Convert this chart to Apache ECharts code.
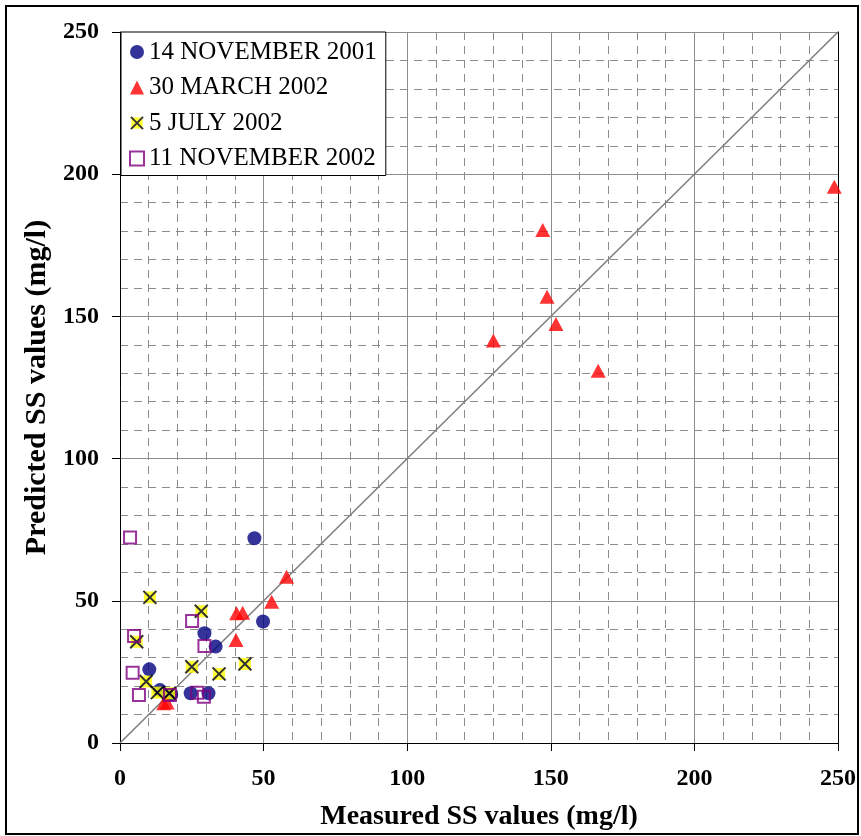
<!DOCTYPE html>
<html>
<head>
<meta charset="utf-8">
<script src="https://cdn.jsdelivr.net/npm/echarts@6/dist/echarts.min.js"></script>
<style>
  html, body { margin: 0; padding: 0; background: #fff; }
  #chart { width: 861px; height: 836px; }
</style>
</head>
<body>
<div id="chart"></div>
<script>
// measured / predicted SS values (mg/l)
const nov2001 = [
  [46.8, 72.0], [49.8, 42.7], [29.4, 38.6], [33.3, 33.9], [10.2, 25.9],
  [13.9, 18.6], [17.8, 17.0], [24.6, 17.5], [30.8, 17.5]
]
const mar2002 = [
  [248.7, 195.6], [147.2, 180.4], [148.7, 156.9], [151.8, 147.3], [130.0, 141.5],
  [166.5, 130.9], [58.0, 58.5], [52.8, 49.7], [40.6, 45.6], [42.7, 45.8],
  [40.4, 36.2], [15.2, 14.0], [16.4, 14.2]
]
const jul2002 = [
  [10.4, 51.2], [28.3, 46.3], [5.8, 35.6], [25.0, 26.8], [43.5, 27.8],
  [34.5, 24.3], [9.1, 21.6], [13.0, 17.7], [17.2, 17.5]
]
const nov2002 = [
  [3.5, 72.3], [4.9, 37.6], [25.1, 42.9], [29.4, 34.1], [4.4, 24.7],
  [6.6, 16.9], [17.4, 16.9], [26.9, 17.7], [29.2, 16.3]
]
const oneToOne = [0, 250]
const axisTicks = [0, 50, 100, 150, 200, 250]

const serif = '"Liberation Serif", "Times New Roman", serif'

// yellow box with black cross, like the Excel marker
const xSvg = "<svg xmlns='http://www.w3.org/2000/svg' width='15' height='15'>" +
  "<rect x='1.5' y='1.5' width='12' height='12' fill='#ffff00'/>" +
  "<path d='M1 1L14 14M14 1L1 14' stroke='#000' stroke-width='2'/></svg>"
const xSymbol = 'image://data:image/svg+xml;charset=utf-8,' + encodeURIComponent(xSvg)

const chart = echarts.init(document.getElementById('chart'))

const valueAxis = (name, gap, nameSize, labelMargin) => ({
  type: 'value',
  min: axisTicks[0],
  max: axisTicks[axisTicks.length - 1],
  interval: axisTicks[1] - axisTicks[0],
  name: name,
  nameLocation: 'middle',
  nameGap: gap,
  nameTextStyle: { fontFamily: serif, fontWeight: 'bold', fontSize: nameSize, color: '#000' },
  axisLine: { show: true, lineStyle: { color: '#000', width: 1 } },
  axisTick: { show: true, length: 8, lineStyle: { color: '#000' } },
  axisLabel: { fontFamily: serif, fontWeight: 'bold', fontSize: 24, color: '#000', margin: labelMargin },
  splitLine: { show: true, lineStyle: { color: '#8c8c8c', width: 1 } },
  minorTick: { show: false, splitNumber: 5 },
  minorSplitLine: { show: true, lineStyle: { color: '#8c8c8c', width: 1, type: [8, 6] } }
})

const option = {
  animation: false,
  backgroundColor: '#fff',
  grid: { left: 120, right: 23, top: 32, bottom: 93, outerBoundsMode: 'none', containLabel: false },
  xAxis: valueAxis('Measured SS values (mg/l)', 60, 28, 24),
  yAxis: [
    valueAxis('Predicted SS values (mg/l)', 68, 30, 21),
    {
      type: 'value', position: 'right',
      min: axisTicks[0], max: axisTicks[axisTicks.length - 1],
      axisLine: { show: true, lineStyle: { color: '#000' } },
      axisTick: { show: false }, axisLabel: { show: false }, splitLine: { show: false }
    }
  ],
  legend: {
    orient: 'vertical',
    left: 121,
    top: 32,
    backgroundColor: '#fff',
    borderColor: '#000',
    borderWidth: 1,
    padding: [6, 9, 3, 8],
    itemWidth: 14,
    itemHeight: 14,
    itemGap: 7.5,
    itemTextGap: 8,
    textStyle: { fontFamily: serif, fontSize: 25, color: '#000', lineHeight: 28 },
    data: [
      { name: '14 NOVEMBER 2001', icon: 'circle' },
      { name: '30 MARCH 2002', icon: 'triangle' },
      { name: '5 JULY 2002', icon: xSymbol },
      { name: '11 NOVEMBER 2002', icon: 'rect' }
    ]
  },
  series: [
    {
      name: 'line 1:1',
      type: 'line',
      data: oneToOne.map(v => [v, v]),
      showSymbol: false,
      silent: true,
      lineStyle: { color: '#808080', width: 1.6 },
      z: 1
    },
    {
      name: '14 NOVEMBER 2001',
      type: 'scatter',
      data: nov2001,
      symbol: 'circle',
      symbolSize: 14,
      itemStyle: { color: '#000080' }
    },
    {
      name: '30 MARCH 2002',
      type: 'scatter',
      data: mar2002,
      symbol: 'triangle',
      symbolSize: [15, 14],
      itemStyle: { color: '#ff0000' }
    },
    {
      name: '5 JULY 2002',
      type: 'scatter',
      data: jul2002,
      symbol: xSymbol,
      symbolSize: 15,
      itemStyle: { color: '#ffff00' }
    },
    {
      name: '11 NOVEMBER 2002',
      type: 'scatter',
      data: nov2002,
      symbol: 'rect',
      symbolSize: 12,
      itemStyle: { color: 'rgba(255,255,255,0)', borderColor: '#800080', borderWidth: 2 }
    }
  ],
  graphic: [
    {
      type: 'rect',
      shape: { x: 6, y: 6, width: 852, height: 828 },
      style: { fill: 'none', stroke: '#000', lineWidth: 2 },
      silent: true,
      z: -10
    }
  ]
}

chart.setOption(option)
</script>
</body>
</html>
